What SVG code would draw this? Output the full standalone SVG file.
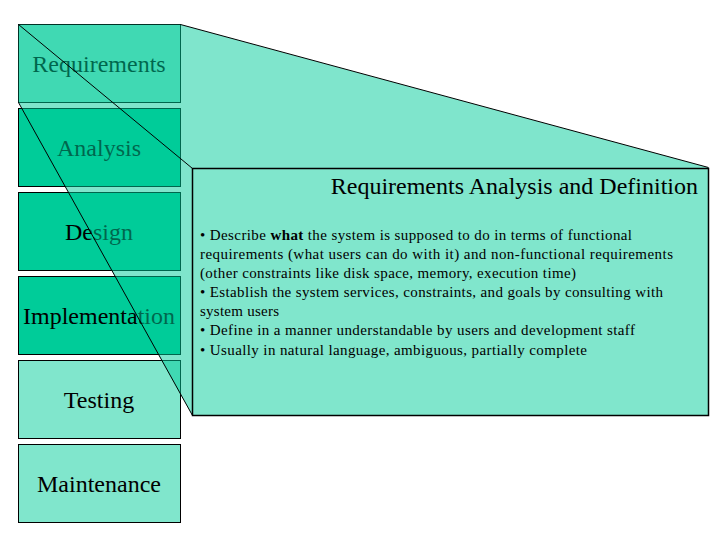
<svg xmlns="http://www.w3.org/2000/svg" width="720" height="540" viewBox="0 0 720 540">
  <style>
    .box { stroke: #000; stroke-width: 1; }
    .dark { fill: #00CC99; }
    .light { fill: #80E6CC; }
    .lbl { font-family: "Liberation Serif", "Times New Roman", serif; font-size: 24px; fill: #000; text-anchor: middle; }
    .edge { stroke: #000; stroke-width: 1; fill: none; }
    .title { font-family: "Liberation Serif", "Times New Roman", serif; font-size: 24px; fill: #000; text-anchor: end; }
    .body { font-family: "Liberation Serif", "Times New Roman", serif; font-size: 15px; fill: #000; }
  </style>
  <rect width="720" height="540" fill="#fff"/>
  <g id="requirements">
    <rect class="box light" x="18.5" y="24.5" width="162" height="78"/>
    <text class="lbl" x="99" y="72">Requirements</text>
  </g>
  <g id="analysis">
    <rect class="box dark" x="18.5" y="108.5" width="162" height="78"/>
    <text class="lbl" x="99" y="156">Analysis</text>
  </g>
  <g id="design">
    <rect class="box dark" x="18.5" y="192.5" width="162" height="78"/>
    <text class="lbl" x="99" y="240">Design</text>
  </g>
  <g id="implementation">
    <rect class="box dark" x="18.5" y="276.5" width="162" height="78"/>
    <text class="lbl" x="99" y="324">Implementation</text>
  </g>
  <g id="testing">
    <rect class="box light" x="18.5" y="360.5" width="162" height="78"/>
    <text class="lbl" x="99" y="408">Testing</text>
  </g>
  <g id="maintenance">
    <rect class="box light" x="18.5" y="444.5" width="162" height="78"/>
    <text class="lbl" x="99" y="492">Maintenance</text>
  </g>
  <g id="zoom-projection">
    <polygon points="18.5,24.5 180.5,24.5 708.5,167.5 708.5,416 192.5,416 18.5,102.5" fill="#00CC99" fill-opacity="0.5"/>
  </g>
  <g id="connectors">
    <line class="edge" x1="18.5" y1="24.5" x2="192.5" y2="168.5"/>
    <line class="edge" x1="180.5" y1="24.5" x2="708.5" y2="167.5"/>
    <line class="edge" x1="18.5" y1="102.5" x2="192.5" y2="415.5"/>
  </g>
  <g id="definition">
    <rect x="192.5" y="168.5" width="516" height="247" fill="#80E6CC" stroke="#000" stroke-width="1.5"/>
    <text class="title" x="698" y="194">Requirements Analysis and Definition</text>
    <text class="body" x="200" y="240" textLength="432" lengthAdjust="spacing">• Describe <tspan font-weight="bold">what</tspan> the system is supposed to do in terms of functional</text>
    <text class="body" x="200" y="259" textLength="473" lengthAdjust="spacing">requirements (what users can do with it) and  non-functional requirements</text>
    <text class="body" x="200" y="278" textLength="376" lengthAdjust="spacing">(other constraints like disk space, memory, execution time)</text>
    <text class="body" x="200" y="297" textLength="463" lengthAdjust="spacing">• Establish the system services, constraints, and goals by consulting with</text>
    <text class="body" x="200" y="316" textLength="79" lengthAdjust="spacing">system users</text>
    <text class="body" x="200" y="335" textLength="435" lengthAdjust="spacing">• Define in a manner understandable by users and development staff</text>
    <text class="body" x="200" y="355" textLength="387" lengthAdjust="spacing">• Usually in natural language, ambiguous, partially complete</text>
  </g>
</svg>
